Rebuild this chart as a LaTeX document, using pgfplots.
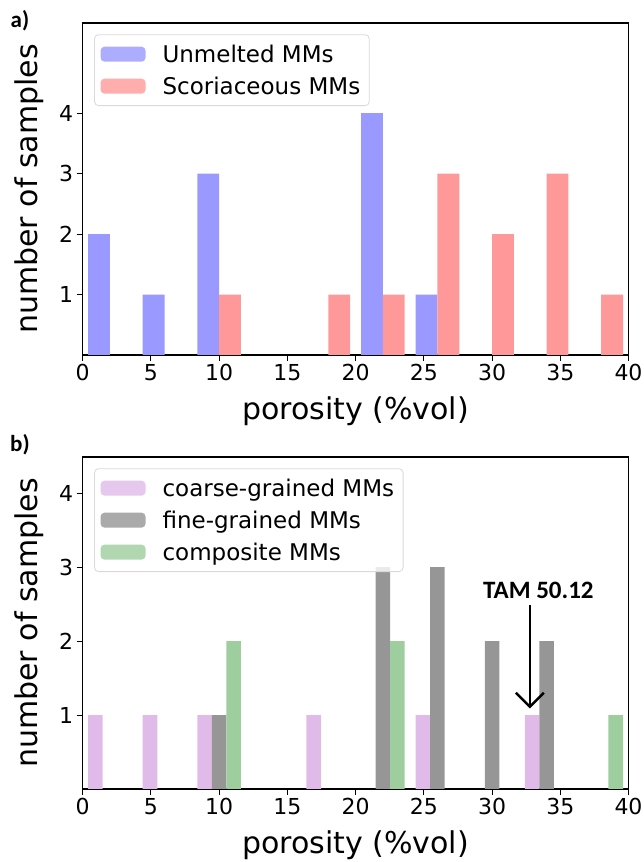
\documentclass[border=0pt]{standalone}
\usepackage{pgfplots}
\pgfplotsset{compat=1.18}
\usepackage{fontspec}
\setmainfont{DejaVu Sans}
\newfontfamily\carlito{Carlito}
\usetikzlibrary{arrows.meta}
\definecolor{cblue}{RGB}{153,153,255}
\definecolor{cred}{RGB}{255,153,153}
\definecolor{cpink}{RGB}{224,187,234}
\definecolor{cgray}{RGB}{150,150,150}
\definecolor{cgreen}{RGB}{158,205,158}
\pgfplotsset{
  panel/.style={
    scale only axis, width=545.8pt, height=332pt,
    xmin=0, xmax=40, ymin=0,
    xtick={0,5,...,40}, ytick={1,2,3,4},
    tick align=outside, major tick length=6pt,
    tick style={black, line width=1pt},
    axis line style={line width=1.1pt},
    xtick pos=bottom, ytick pos=left,
    /pgf/number format/assume math mode=true,
    tick label style={font=\fontsize{22}{26}\selectfont},
    label style={font=\fontsize{30}{36}\selectfont},
    xlabel={porosity (\%vol)},
    ylabel={number of samples},
    xlabel style={at={(axis description cs:0.5,-0.168)}, anchor=center},
    ylabel style={at={(axis description cs:-0.098,0.5)}, anchor=center},
    legend cell align=left,
    legend image code/.code={\fill[##1] (0pt,-7.5pt) rectangle (45pt,7.5pt);},
    legend style={at={(axis description cs:0.021,0.966)}, anchor=north west,
      draw=black!15, line width=0.8pt, rounded corners=4pt, fill=white,
      fill opacity=0.8, draw opacity=1, text opacity=1,
      font=\fontsize{23}{26}\selectfont,
      inner xsep=6pt, inner ysep=8pt, row sep=9pt,
      nodes={inner xsep=3pt},
      /tikz/every odd column/.append style={column sep=14pt}},
  },
  hbar/.style={ybar, bar shift=0pt, draw=none, fill=#1},
}
\begin{document}
\begin{tikzpicture}
\path[use as bounding box] (0pt,0pt) rectangle (644pt,862pt);
% panel a
\begin{axis}[panel, at={(82.7pt,507pt)}, anchor=south west, ymax=5.49]
\addplot[hbar=cblue, bar width=1.6] coordinates {(1.2,2) (5.2,1) (9.2,3) (21.2,4) (25.2,1)};
\addlegendentry{Unmelted MMs}
\addplot[hbar=cred, bar width=1.6] coordinates {(10.8,1) (18.8,1) (22.8,1) (26.8,3) (30.8,2) (34.8,3) (38.8,1)};
\addlegendentry{Scoriaceous MMs}
\end{axis}
% panel b
\begin{axis}[panel, at={(82.7pt,73pt)}, anchor=south west, ymax=4.49]
\addplot[hbar=cpink, bar width=1.0667] coordinates {(0.933,1) (4.933,1) (8.933,1) (16.933,1) (24.933,1) (32.933,1)};
\addlegendentry{coarse-grained MMs}
\addplot[hbar=cgray, bar width=1.0667] coordinates {(10,1) (22,3) (26,3) (30,2) (34,2)};
\addlegendentry{fine-grained MMs}
\addplot[hbar=cgreen, bar width=1.0667] coordinates {(11.067,2) (23.067,2) (39.067,1)};
\addlegendentry{composite MMs}
\draw[line width=2.4pt, -{Straight Barb[length=14pt,width=28pt,line width=2.4pt]}] (axis cs:32.77,2.49) -- (axis cs:32.77,1.09);
\node[font=\carlito\bfseries\fontsize{25}{28}\selectfont] at (axis cs:33.4,2.68) {TAM 50.12};
\end{axis}
\node[font=\carlito\bfseries\fontsize{23}{26}\selectfont] at (20pt,841pt) {a)};
\node[font=\carlito\bfseries\fontsize{23}{26}\selectfont] at (20pt,417pt) {b)};
\end{tikzpicture}
\end{document}
